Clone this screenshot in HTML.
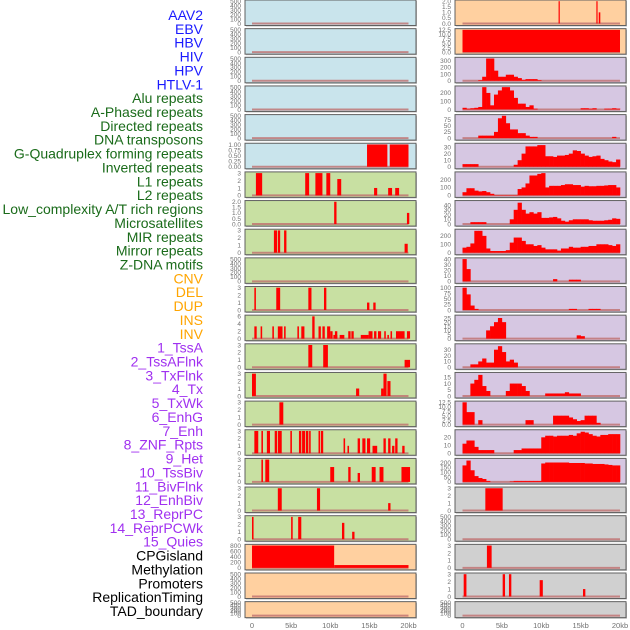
<!DOCTYPE html>
<html><head><meta charset="utf-8"><style>
html,body{margin:0;padding:0;background:#fff;}
svg{display:block;font-family:"Liberation Sans",sans-serif;}
</style></head><body>
<svg id="chart" width="630" height="630" viewBox="0 0 630 630">
<g id="labels"></g>
<g id="panels"></g>
<g id="xaxis"></g>
</svg>
<script>
const trackNames = ["AAV2","EBV","HBV","HIV","HPV","HTLV-1","Alu repeats","A-Phased repeats","Directed repeats","DNA transposons","G-Quadruplex forming repeats","Inverted repeats","L1 repeats","L2 repeats","Low_complexity A/T rich regions","Microsatellites","MIR repeats","Mirror repeats","Z-DNA motifs","CNV","DEL","DUP","INS","INV","1_TssA","2_TssAFlnk","3_TxFlnk","4_Tx","5_TxWk","6_EnhG","7_Enh","8_ZNF_Rpts","9_Het","10_TssBiv","11_BivFlnk","12_EnhBiv","13_ReprPC","14_ReprPCWk","15_Quies","CPGisland","Methylation","Promoters","ReplicationTiming","TAD_boundary"];
const trackGroups = [0,0,0,0,0,0,1,1,1,1,1,1,1,1,1,1,1,1,1,2,2,2,2,2,3,3,3,3,3,3,3,3,3,3,3,3,3,3,3,4,4,4,4,4];
const groupColors = ["#1a1aff","#1a6b1a","#ffa500","#a030f0","#000000"];

const xTickLabels = ["0","5kb","10kb","15kb","20kb"];
const xTickValues = [0,5,10,15,20];

const leftBg = ["b","b","b","b","b","b","g","g","g","g","g","g","g","g","g","g","g","g","g","o","o","o"];
const rightBg = ["o","o","p","p","p","p","p","p","p","p","p","p","p","p","p","p","p","k","k","k","k","k"];

const T500 = ["0","100","200","300","400","500"];
const T3 = ["0","1","2","3"];
const leftTicks = [T500,T500,T500,T500,T500,["0.00","0.25","0.50","0.75","1.00"],T3,["0.0","0.5","1.0","1.5","2.0"],T3,T500,T3,["0","2","4","6"],T3,T3,T3,T3,T3,T3,T3,["0","200","400","600","800"],T500,T500];
const leftMax = [500,500,500,500,500,1,3,2,3,500,3,6,3,3,3,3,3,3,3,800,500,500];
const leftBars = [
 [],[],[],[],[],
 [[14.7,17.3,1],[17.6,20,1]],
 [[0.5,1.3,3],[6.8,7.3,3],[8.1,9.0,3],[9.5,10,3],[10.9,11.4,2.2],[15.6,16.0,1],[17.4,17.9,1],[18.3,18.8,1]],
 [[10.5,10.8,2],[19.8,20.1,1]],
 [[2.8,3.2,3],[3.3,3.6,3],[4.1,4.4,3],[19.5,19.9,1.2]],
 [],
 [[0.3,0.5,3],[3.1,3.6,3],[7.2,7.6,3],[9.2,9.5,3],[14.7,15.0,1],[15.5,15.8,1]],
 [[0.3,0.6,3.3],[1.1,1.3,3.3],[2.6,2.8,3.3],[3.3,3.9,3.3],[4.1,4.3,3.3],[5.8,6.0,3.3],[6.3,6.7,3.3],[7.7,8.0,6],[8.5,8.8,3.3],[9.0,9.3,3.3],[9.6,10.0,3.3],[10.0,10.3,2],[10.4,10.9,1],[10.6,10.9,2],[11.2,11.8,1],[12.3,12.6,2],[12.7,13.0,2],[13.9,14.9,1],[14.9,15.4,2],[15.6,15.9,2],[16.1,16.5,2],[16.9,17.1,2],[17.3,17.5,1],[17.7,17.9,2],[18.4,19.5,2],[19.8,20.2,2]],
 [[7.2,7.7,3],[9.1,9.7,3],[19.5,20.2,1]],
 [[0,0.5,3],[13.3,13.7,1],[16.5,16.8,1],[16.8,17.2,3],[17.3,17.7,2]],
 [[3.5,4.0,3]],
 [[0.3,0.8,3],[1.2,1.4,3],[1.9,2.3,3],[2.9,3.2,3],[3.3,3.8,3],[4.9,5.1,3],[6.0,6.3,3],[6.4,6.8,3],[6.9,7.2,3],[7.3,7.5,3],[8.5,8.7,3],[8.8,9.1,3],[11.7,11.9,2],[12.2,12.4,1],[13.5,13.8,2],[14.1,14.5,2],[14.7,15.1,2],[15.4,16.0,1],[16.8,17.1,2],[17.4,17.7,2],[17.9,18.2,1],[18.3,18.6,2],[19.2,19.5,1]],
 [[1.2,1.4,3],[1.7,2.2,3],[10.0,10.5,2],[12.3,12.6,2],[13.5,13.8,1.2],[15.3,15.8,2],[16.3,16.8,2],[19.1,20.2,2]],
 [[3.3,3.8,3],[8.3,8.7,3],[17.4,17.7,1]],
 [[0,0.2,3],[5.0,5.2,3],[5.9,6.3,3],[11.5,11.8,2.2],[12.8,13.1,1]],
 [[0,10.5,800],[10.5,20,100]],
 [],[]
];

const rightTicks = [["0.0","0.5","1.0","1.5","2.0"],["0.0","2.5","5.0","7.5","10.0","12.5"],["0","100","200","300"],["0","100","200"],["0","25","50","75"],["0","10","20","30"],["0","100","200"],["0","10","20","30","40"],["0","100","200"],["0","10","20","30","40"],["0","25","50","75","100"],["0","5","10","15","20","25"],["0","10","20","30"],["0","5","10","15"],["0.0","2.5","5.0","7.5","10.0","12.5"],["0","10","20"],["0","50","100","150","200"],T3,T500,T3,T3,T500];
const rightMax = [2,12.5,330,270,90,34,280,47,265,40,100,27,38,18,12.5,28,230,3,500,3,3,500];
const rightBars = [
 [[12.2,12.35,2],[17.0,17.15,2],[17.3,17.5,1]],
 [[0,20,12.5]],
 [],[],[],[],[],[],[],[],[],[],[],[],[],[],[],
 [[2.9,5.1,3]],
 [],
 [[3.1,3.7,3]],
 [[0.15,0.5,3],[5.1,5.4,3],[5.9,6.2,3],[9.8,10.2,2.2],[15.3,15.6,1]],
 []
];
const rightBins = [
 null,null,
 [0,0,0,0,10,60,330,330,150,60,60,90,90,60,40,15,25,25,25,10,0,0,0,0,0,0,0,0,0,0,0,0,0,0,0,0,0,0,0,0],
 [20,10,15,20,30,270,200,50,180,230,270,270,230,140,70,70,30,50,10,0,0,0,0,0,0,0,0,0,0,0,15,15,10,15,0,0,10,10,15,10],
 [0,0,0,0,10,10,10,10,25,80,90,60,35,35,20,20,10,5,5,0,0,0,0,0,0,0,0,0,0,0,0,0,0,0,0,0,0,0,5,0],
 [4,4,4,4,0,0,0,0,0,0,0,0,0,3,10,20,31,31,31,33,33,16,16,15,17,17,18,20,25,24,20,17,15,16,17,12,10,8,7,11],
 [40,90,90,60,50,55,40,20,5,5,5,5,5,5,80,100,150,250,250,270,280,100,120,120,120,130,140,140,130,130,110,120,115,115,120,120,125,130,130,100],
 [0,0,4,4,4,4,0,0,0,0,0,0,10,30,45,30,22,25,22,25,13,13,14,15,12,7,5,8,10,10,10,10,8,7,7,7,8,9,12,11],
 [60,70,110,260,260,200,50,20,20,20,20,30,120,180,180,140,100,100,80,90,60,40,40,40,25,50,50,70,60,60,70,70,80,80,100,100,100,90,80,100],
 [40,22,0,0,0,0,0,0,0,0,0,0,0,0,0,0,0,0,0,0,0,0,0,4,0,0,0,3,3,3,0,0,0,0,0,0,0,0,0,0],
 [100,70,20,5,0,0,0,0,0,0,0,0,0,0,0,0,0,0,0,0,0,0,0,0,0,0,0,5,5,0,0,0,5,5,5,0,0,0,0,0],
 [0,0,0,0,0,0,10,15,20,25,20,0,0,0,0,0,0,0,0,0,0,0,0,0,0,0,0,0,0,4,3,0,0,0,0,0,0,0,0,0],
 [0,0,5,5,10,15,8,8,30,36,26,10,13,8,0,0,0,0,0,0,0,0,0,0,0,0,0,0,0,0,0,0,0,0,0,0,0,0,0,0],
 [0,0,10,13,17,8,4,0,0,0,0,4,10,10,10,8,4,0,0,0,0,2,2,2,2,2,3,2,2,2,0,0,0,0,0,0,0,0,0,0],
 [12.5,7,7,0,2.5,0,0,0,0,0,0,0,0,0,0,0,2.5,2.5,0,0,0,0,0,5,5,5,5,4,3,2,2.5,5,5,5,1,0,0,0,0,0],
 [12,16,16,8,4,4,4,4,0,0,0,0,0,4,4,6,6,6,6,6,20,22,22,21,22,22,22,23,22,25,27,26,24,22,21,23,23,24,24,24],
 [170,220,120,60,40,30,10,0,0,0,0,0,5,10,10,10,10,10,10,10,190,200,200,200,200,200,200,195,195,195,195,190,190,185,185,185,180,175,170,170],
 null,null,null,null,null
];

const bgColors = {b:"#c9e4ec",g:"#c8e0a2",o:"#ffd0a0",p:"#d6c7e2",k:"#d0d0d0"};
const NS = "http://www.w3.org/2000/svg";
function mk(tag, attrs, parent){ const e=document.createElementNS(NS,tag); for(const k in attrs) e.setAttribute(k,attrs[k]); parent.appendChild(e); return e; }

// labels
const lg = document.getElementById("labels");
const labelTop = 15, labelStep = (611-15)/(trackNames.length-1);
trackNames.forEach((n,i)=>{
  const t = mk("text",{x:203,y:labelTop+i*labelStep+5,"text-anchor":"end","font-size":"14",fill:groupColors[trackGroups[i]]},lg);
  
  
  t.textContent = n;
});

const pg = document.getElementById("panels");
const rowStep = 28.65;
function panelGeom(i){ const top=i*rowStep; const h = i===21?16:25.5; return {top, h}; }

function drawPanel(side, i, x0, x1, dataX0, dataX1, tickX, bg, ticks, maxV, bars, bins){
  const {top,h} = panelGeom(i);
  const g = mk("g",{},pg);
  
  
  mk("rect",{x:x0+1,y:top+1,width:x1-x0,height:h,fill:"#bbb"},g);
  mk("rect",{x:x0,y:top,width:x1-x0,height:h,fill:bg,stroke:"#606060","stroke-width":1},g);
  const yTop = top+1.2, yBase = top+h-2;
  const xs = kb => dataX0 + (dataX1-dataX0)*kb/20;
  const ys = v => yBase - (yBase-yTop)*Math.min(v,maxV)/maxV;
  ticks.forEach(lbl=>{
    const v = parseFloat(lbl);
    const t = mk("text",{x:tickX,y:ys(v)+2.3,"text-anchor":"end","font-size":"6.5",fill:"#707070"},g);
    
    
    t.textContent = lbl;
  });
  mk("line",{x1:xs(0),x2:xs(20),y1:yBase,y2:yBase,stroke:"#c07070","stroke-width":2,opacity:0.8},g);
  if(bins){
    bins.forEach((v,j)=>{
      if(v<=0) return;
      const r = mk("rect",{x:xs(j*0.5),y:ys(v),width:xs((j+1)*0.5)-xs(j*0.5)+0.3,height:yBase-ys(v),fill:"#ff0000"},g);
      
      
    });
  }
  bars.forEach(b=>{
    const r = mk("rect",{x:xs(b[0]),y:ys(b[2]),width:Math.max(1.2,xs(b[1])-xs(b[0])),height:yBase-ys(b[2]),fill:"#ff0000"},g);
    
    
  });
}

for(let i=0;i<22;i++){
  drawPanel("left", i, 245, 416, 252, 408.5, 241, bgColors[leftBg[i]], leftTicks[i], leftMax[i], leftBars[i], null);
  drawPanel("right", i, 455, 626, 462.5, 620, 451, bgColors[rightBg[i]], rightTicks[i], rightMax[i], rightBars[i], rightBins[i]);
}

const xg = document.getElementById("xaxis");
[[252,408.5],[462.5,620]].forEach(([a,b])=>{
  xTickValues.forEach((v,k)=>{
    const t = mk("text",{x:a+(b-a)*v/20,y:628,"text-anchor":"middle","font-size":"7.5",fill:"#707070"},xg);
    
    
    t.textContent = xTickLabels[k];
  });
});
</script>
</body></html>
